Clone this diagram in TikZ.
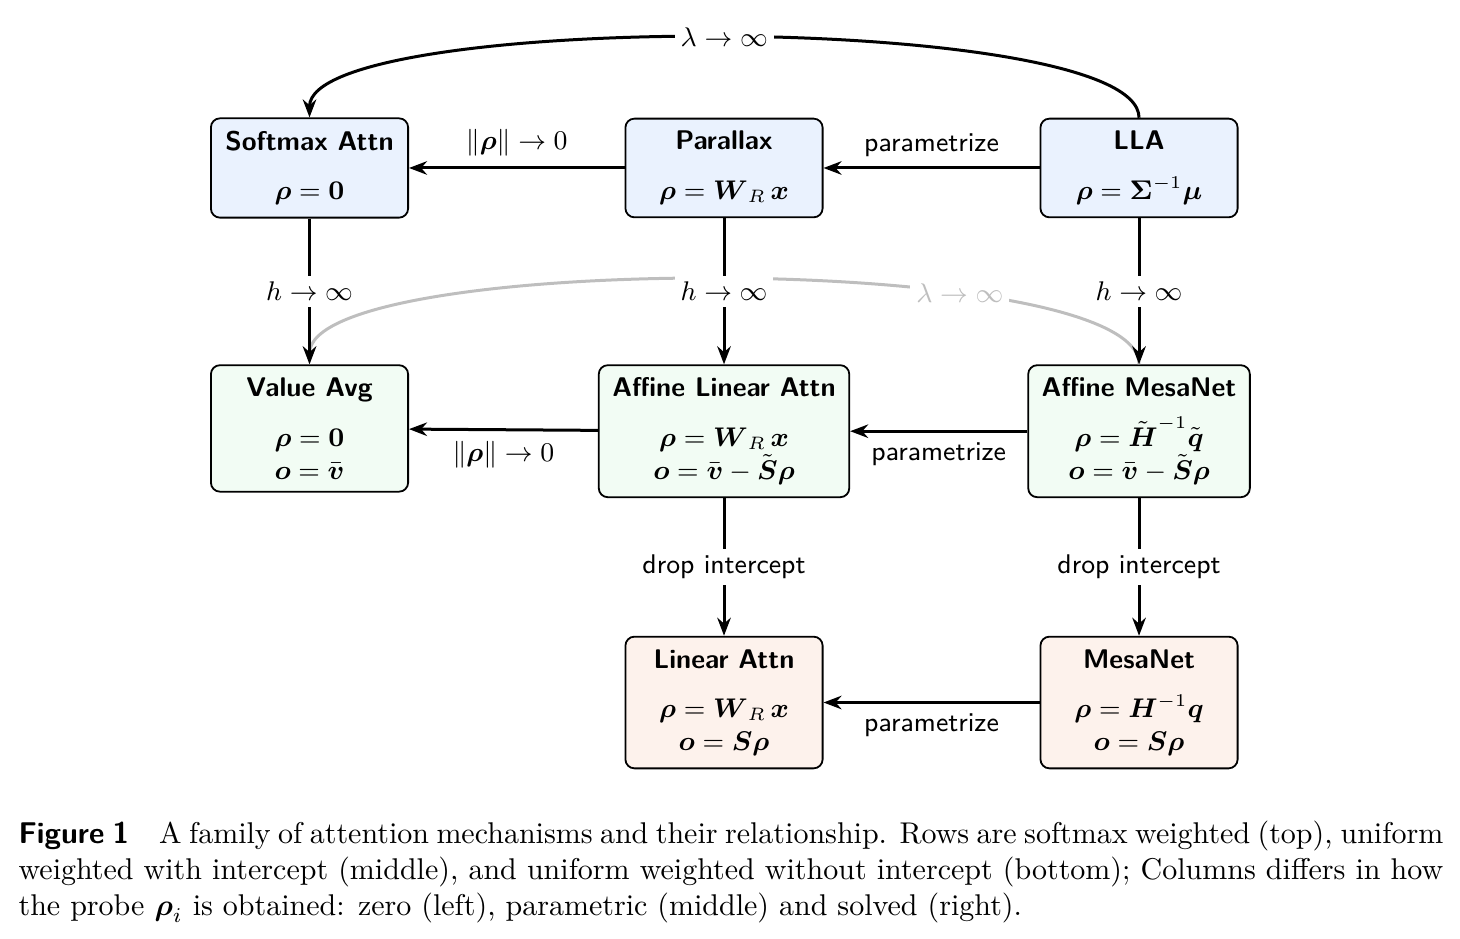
\documentclass[tikz,border=0pt]{standalone}
\usepackage{xcolor}
\definecolor{rowtop}{RGB}{234,242,254}
\definecolor{rowmid}{RGB}{242,252,244}
\definecolor{rowbot}{RGB}{253,242,236}
\definecolor{ghost}{RGB}{190,190,190}
\usepackage{amsmath, amssymb}
\usepackage{tikz}
\usetikzlibrary{arrows.meta, positioning}

\begin{document}
\begin{tikzpicture}[
  font=\small,
  box/.style={
    rectangle, rounded corners=3pt, draw=black, line width=0.6pt,
    minimum width=2.31cm, align=center, inner xsep=4.5pt, inner ysep=4.2pt
  },
  topbox/.style={box, fill=rowtop},
  midbox/.style={box, fill=rowmid},
  botbox/.style={box, fill=rowbot},
  arr/.style={-{Stealth[length=6pt, width=4.5pt]}, line width=1pt, color=black},
  garr/.style={-{Stealth[length=6pt, width=4.5pt]}, line width=1pt, color=ghost},
  lbl/.style={fill=white, inner sep=2pt},
  txt/.style={font=\small\sffamily},
]
\useasboundingbox (-3.626, 1.968) rectangle (13.478, -9.032);

%% Fila superior (softmax)
\node[topbox] (softmax) at (0,     0) {\textsf{\bfseries Softmax Attn}\\[5.5pt] $\boldsymbol{\rho}=\mathbf{0}$};
\node[topbox] (parallax) at (4.856, 0) {\textsf{\bfseries Parallax}\\[5.5pt] $\boldsymbol{\rho}=\boldsymbol{W}_R\,\boldsymbol{x}$};
\node[topbox] (lla)     at (9.718, 0) {\textsf{\bfseries LLA}\\[5.5pt] $\boldsymbol{\rho}=\boldsymbol{\Sigma}^{-1}\boldsymbol{\mu}$};

%% Fila central (con intercepto)
\node[midbox, anchor=north] (valavg) at (0,     -2.30) {\textsf{\bfseries Value Avg}\\[5.5pt] $\boldsymbol{\rho}=\mathbf{0}$\\ $\boldsymbol{o}=\bar{\boldsymbol{v}}$};
\node[midbox, anchor=north] (afflin) at (4.856, -2.30) {\textsf{\bfseries Affine Linear Attn}\\[5.5pt] $\boldsymbol{\rho}=\boldsymbol{W}_R\,\boldsymbol{x}$\\ $\boldsymbol{o}=\bar{\boldsymbol{v}}-\tilde{\boldsymbol{S}}\boldsymbol{\rho}$};
\node[midbox, anchor=north] (affmesa) at (9.718, -2.30) {\textsf{\bfseries Affine MesaNet}\\[5.5pt] $\boldsymbol{\rho}=\tilde{\boldsymbol{H}}^{-1}\tilde{\boldsymbol{q}}$\\ $\boldsymbol{o}=\bar{\boldsymbol{v}}-\tilde{\boldsymbol{S}}\boldsymbol{\rho}$};

%% Fila inferior (sin intercepto)
\node[botbox, anchor=north] (linattn) at (4.856, -5.48) {\textsf{\bfseries Linear Attn}\\[5.5pt] $\boldsymbol{\rho}=\boldsymbol{W}_R\,\boldsymbol{x}$\\ $\boldsymbol{o}=\boldsymbol{S}\boldsymbol{\rho}$};
\node[botbox, anchor=north] (mesanet) at (9.718, -5.48) {\textsf{\bfseries MesaNet}\\[5.5pt] $\boldsymbol{\rho}=\boldsymbol{H}^{-1}\boldsymbol{q}$\\ $\boldsymbol{o}=\boldsymbol{S}\boldsymbol{\rho}$};

%% Curva gris (por debajo de todo)
\draw[garr] (affmesa.north) to[out=90, in=90, looseness=0.35]
  node[lbl, pos=0.3, text=ghost] {$\lambda\to\infty$} (valavg.north);

%% Flechas horizontales
\draw[arr] (parallax) -- node[above] {$\|\boldsymbol{\rho}\|\to 0$} (softmax);
\draw[arr] (lla)      -- node[above, txt] {parametrize} (parallax);
\draw[arr] (afflin)   -- node[below] {$\|\boldsymbol{\rho}\|\to 0$} (valavg);
\draw[arr] (affmesa)  -- node[below, txt] {parametrize} (afflin);
\draw[arr] (mesanet)  -- node[below, txt] {parametrize} (linattn);

%% Flechas verticales
\draw[arr] (softmax)  -- node[lbl] {$h\to\infty$} (valavg);
\draw[arr] (parallax) -- node[lbl] {$h\to\infty$} (afflin);
\draw[arr] (lla)      -- node[lbl] {$h\to\infty$} (affmesa);
\draw[arr] (afflin)   -- node[lbl, txt] {drop intercept} (linattn);
\draw[arr] (affmesa)  -- node[lbl, txt] {drop intercept} (mesanet);

%% Curva superior
\draw[arr] (lla.north) to[out=90, in=90, looseness=0.33]
  node[lbl] {$\lambda\to\infty$} (softmax.north);

%% Pie de figura
\node[anchor=north west, text width=16.69cm, align=justify, inner sep=0, font=\normalsize] (cap) at (-3.415, -7.638)
  {\textsf{\bfseries Figure 1}\quad A family of attention mechanisms and their relationship. Rows are softmax weighted (top), uniform weighted with intercept (middle), and uniform weighted without intercept (bottom); Columns differs in how the probe $\boldsymbol{\rho}_i$ is obtained: zero (left), parametric (middle) and solved (right).};

\end{tikzpicture}
\end{document}
